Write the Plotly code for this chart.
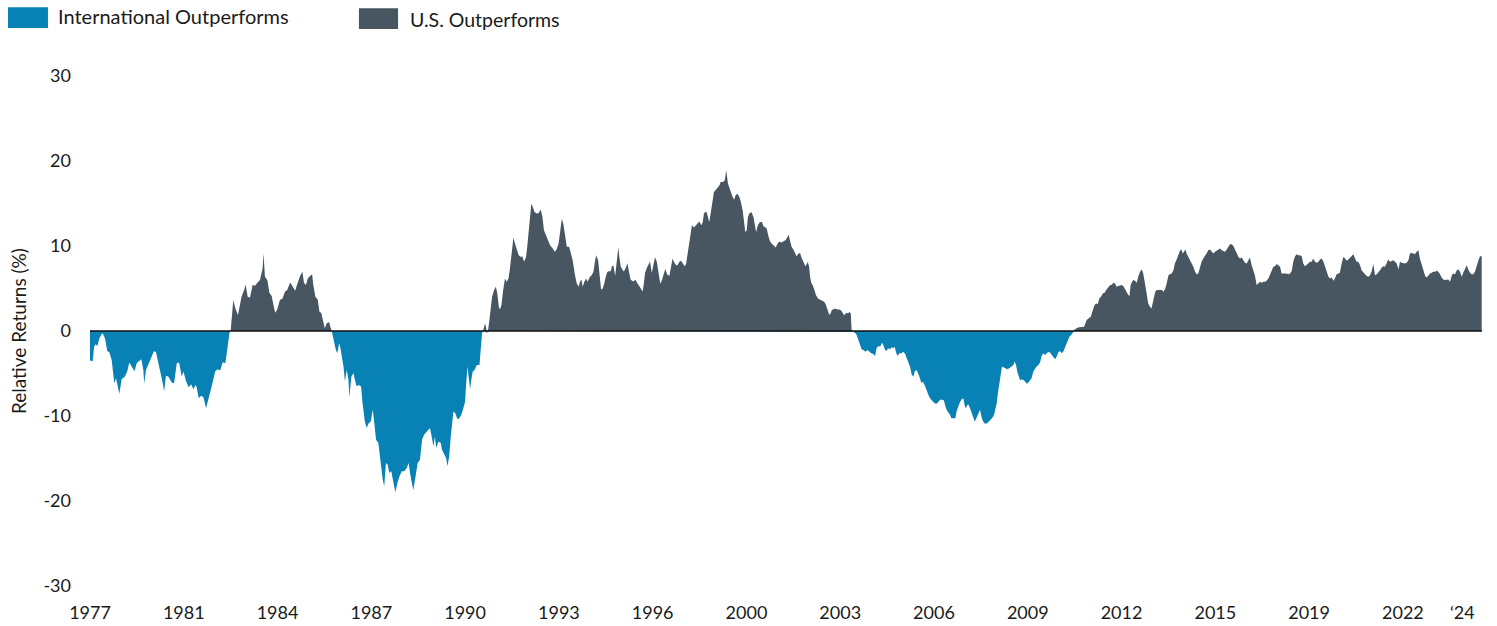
import plotly.graph_objects as go

# ---------------- data ----------------
years = [
    # 1977-1982
    1977.00,1977.09,1977.14,1977.19,1977.25,1977.32,1977.40,1977.43,1977.51,1977.59,
    1977.66,1977.74,1977.83,1977.89,1978.00,1978.08,1978.19,1978.27,1978.34,1978.46,
    1978.52,1978.59,1978.68,1978.75,1978.82,1978.85,1978.91,1978.99,1979.08,1979.18,
    1979.25,1979.34,1979.46,1979.53,1979.59,1979.67,1979.79,1979.87,1979.96,1980.04,
    1980.13,1980.19,1980.28,1980.37,1980.45,1980.53,1980.60,1980.64,1980.71,1980.79,
    1980.87,1980.96,1981.04,1981.15,1981.27,1981.35,1981.44,1981.53,1981.62,1981.69,
    1981.76,1981.80,1981.89,1981.96,1982.05,1982.10,1982.17,1982.26,1982.31,1982.38,
    1982.46,1982.55,1982.63,1982.71,1982.80,
    # 1982-1988
    1982.89,1982.92,1982.97,1983.05,1983.12,1983.20,1983.26,1983.32,1983.39,1983.48,
    1983.57,1983.65,1983.73,1983.83,1983.92,1984.00,1984.08,1984.17,1984.25,1984.30,
    1984.37,1984.43,1984.51,1984.58,1984.62,1984.69,1984.77,1984.83,1984.89,1984.94,
    1985.01,1985.08,1985.16,1985.20,1985.25,1985.28,1985.33,1985.39,1985.44,1985.50,
    1985.54,1985.60,1985.65,1985.70,1985.76,1985.82,1985.85,1985.92,1985.99,1986.04,
    1986.10,1986.17,1986.25,1986.30,1986.38,1986.44,1986.51,1986.58,1986.65,1986.69,
    1986.76,1986.84,1986.90,1986.99,1987.04,1987.10,1987.16,1987.21,1987.28,1987.35,
    1987.42,1987.49,1987.56,1987.64,1987.72,1987.81,1987.87,1987.94,1988.03,1988.11,
    1988.18,1988.26,1988.33,1988.40,1988.49,
    # 1988-1994
    1988.60,1988.66,1988.72,1988.77,1988.81,1988.89,1988.97,1989.01,1989.08,1989.15,
    1989.20,1989.26,1989.31,1989.35,1989.40,1989.46,1989.54,1989.60,1989.67,1989.74,
    1989.80,1989.83,1989.88,1989.92,1989.97,1990.01,1990.06,1990.12,1990.20,1990.29,
    1990.33,1990.38,1990.42,1990.48,1990.54,1990.58,1990.63,1990.67,1990.72,1990.79,
    1990.85,1990.90,1990.95,1990.99,1991.04,1991.10,1991.16,1991.22,1991.28,1991.33,
    1991.39,1991.45,1991.50,1991.56,1991.63,1991.70,1991.75,1991.81,1991.88,1991.92,
    1991.97,1992.01,1992.06,1992.11,1992.17,1992.24,1992.31,1992.38,1992.44,1992.49,
    1992.56,1992.62,1992.70,1992.79,1992.86,1992.92,1992.99,1993.05,1993.10,1993.15,
    1993.22,1993.27,1993.35,1993.40,1993.47,1993.55,1993.61,1993.68,1993.72,1993.77,
    1993.81,1993.87,1993.93,1993.98,1994.06,
    # 1994-2000
    1994.12,1994.18,1994.22,1994.27,1994.34,1994.38,1994.44,1994.49,1994.54,1994.60,
    1994.65,1994.70,1994.77,1994.81,1994.86,1994.92,1994.97,1995.03,1995.06,1995.11,
    1995.17,1995.22,1995.28,1995.34,1995.39,1995.45,1995.54,1995.61,1995.68,1995.75,
    1995.80,1995.86,1995.90,1995.94,1996.00,1996.05,1996.11,1996.17,1996.22,1996.28,
    1996.34,1996.39,1996.46,1996.52,1996.56,1996.63,1996.70,1996.77,1996.83,1996.88,
    1996.94,1997.00,1997.05,1997.11,1997.17,1997.22,1997.29,1997.34,1997.38,1997.44,
    1997.50,1997.54,1997.61,1997.68,1997.72,1997.79,1997.86,1997.91,1997.95,1998.00,
    1998.04,1998.10,1998.13,1998.18,1998.25,1998.29,1998.36,1998.43,1998.48,1998.52,
    1998.59,1998.66,1998.71,1998.77,1998.82,1998.88,1998.93,1998.98,1999.03,1999.09,
    1999.16,1999.21,1999.27,1999.32,1999.36,1999.41,1999.45,1999.50,1999.57,1999.64,
    1999.68,1999.73,1999.79,1999.86,1999.93,1999.98,2000.05,2000.09,2000.15,2000.20,
    # 2000-2006
    2000.26,2000.34,2000.40,2000.45,2000.52,2000.59,2000.66,2000.73,2000.80,2000.84,
    2000.89,2000.94,2001.00,2001.07,2001.11,2001.18,2001.23,2001.27,2001.34,2001.41,
    2001.47,2001.49,2001.54,2001.57,2001.62,2001.66,2001.72,2001.77,2001.84,2001.91,
    2001.98,2002.05,2002.10,2002.16,2002.23,2002.27,2002.32,2002.37,2002.43,2002.50,
    2002.57,2002.64,2002.71,2002.76,2002.80,2002.87,2002.91,2002.96,2002.99,2003.03,
    2003.12,2003.16,2003.22,2003.28,2003.33,2003.39,2003.46,2003.53,2003.59,2003.66,
    2003.73,2003.79,2003.84,2003.90,2003.96,2004.03,2004.07,2004.13,2004.19,2004.23,
    2004.30,2004.35,2004.41,2004.46,2004.50,2004.55,2004.62,2004.69,2004.75,2004.82,
    2004.87,2004.91,2004.98,2005.04,2005.10,2005.14,2005.19,2005.23,2005.28,2005.32,
    2005.37,2005.41,2005.48,2005.55,2005.62,2005.69,2005.76,2005.82,2005.89,2005.95,
    2006.01,
    # 2006-2011
    2006.10,2006.14,2006.19,2006.23,2006.29,2006.35,2006.39,2006.46,2006.53,2006.57,
    2006.62,2006.67,2006.73,2006.80,2006.85,2006.89,2006.94,2006.98,2007.03,2007.09,
    2007.14,2007.19,2007.23,2007.28,2007.32,2007.37,2007.42,2007.46,2007.52,2007.58,
    2007.64,2007.71,2007.78,2007.85,2007.89,2007.94,2007.98,2008.03,2008.08,2008.12,
    2008.17,2008.24,2008.30,2008.37,2008.44,2008.51,2008.55,2008.60,2008.64,2008.69,
    2008.74,2008.78,2008.85,2008.91,2008.96,2009.02,2009.08,2009.13,2009.19,2009.25,
    2009.30,2009.36,2009.42,2009.47,2009.53,2009.59,2009.65,2009.70,2009.76,2009.82,
    2009.87,2009.93,2009.99,2010.04,2010.10,2010.16,2010.21,2010.26,2010.31,2010.36,
    2010.42,2010.48,2010.53,2010.58,2010.64,2010.69,2010.76,2010.84,2010.92,2010.97,
    2011.01,2011.08,2011.15,2011.22,2011.28,2011.33,2011.39,2011.44,2011.50,2011.56,
    2011.62,2011.69,2011.75,2011.81,
    # 2011-2017
    2011.86,2011.92,2011.98,2012.03,2012.09,2012.15,2012.20,2012.26,2012.32,2012.38,
    2012.43,2012.47,2012.51,2012.56,2012.60,2012.66,2012.72,2012.77,2012.83,2012.89,
    2012.94,2013.00,2013.06,2013.11,2013.17,2013.22,2013.26,2013.31,2013.35,2013.40,
    2013.47,2013.54,2013.58,2013.63,2013.68,2013.74,2013.80,2013.85,2013.91,2013.97,
    2014.02,2014.08,2014.14,2014.20,2014.24,2014.29,2014.33,2014.38,2014.42,2014.48,
    2014.54,2014.59,2014.65,2014.71,2014.76,2014.82,2014.88,2014.93,2014.99,2015.05,
    2015.11,2015.16,2015.22,2015.28,2015.33,2015.39,2015.45,2015.50,2015.56,2015.62,
    2015.67,2015.73,2015.79,2015.84,2015.90,2015.96,2016.02,2016.07,2016.13,2016.19,
    2016.24,2016.30,2016.36,2016.41,2016.47,2016.53,2016.58,2016.64,2016.70,2016.75,
    2016.81,2016.87,2016.93,2016.98,2017.04,2017.10,2017.15,2017.21,2017.27,2017.32,
    2017.38,2017.44,2017.49,2017.55,2017.61,
    # 2017-2024
    2017.66,2017.72,2017.78,2017.83,2017.89,2017.95,2018.01,2018.06,2018.12,2018.18,
    2018.23,2018.29,2018.35,2018.40,2018.46,2018.52,2018.57,2018.63,2018.69,2018.74,
    2018.80,2018.86,2018.92,2018.97,2019.03,2019.09,2019.14,2019.20,2019.26,2019.31,
    2019.37,2019.43,2019.48,2019.54,2019.60,2019.65,2019.71,2019.77,2019.83,2019.88,
    2019.94,2020.00,2020.05,2020.11,2020.17,2020.22,2020.28,2020.34,2020.39,2020.45,
    2020.51,2020.57,2020.62,2020.68,2020.74,2020.79,2020.85,2020.91,2020.96,2021.02,
    2021.08,2021.13,2021.19,2021.25,2021.30,2021.36,2021.42,2021.48,2021.53,2021.59,
    2021.65,2021.70,2021.76,2021.82,2021.87,2021.93,2021.99,2022.04,2022.10,2022.16,
    2022.21,2022.27,2022.33,2022.38,2022.44,2022.50,2022.56,2022.61,2022.67,2022.73,
    2022.78,2022.84,2022.90,2022.95,2023.01,2023.07,2023.12,2023.18,2023.24,2023.29,
    2023.35,2023.41,2023.47,2023.52,2023.58,2023.64,2023.69,2023.75,2023.81,2023.86,
    2023.92,2023.98,2024.03,2024.09,2024.15,2024.20,2024.26,2024.32,2024.38,2024.43,
    2024.49,
]

rel_returns = [
    # 1977-1982
    -3.48,-3.56,-1.84,-1.56,-1.76,-0.86,-0.35,-0.27,-0.86,-2.35,
    -2.50,-3.40,-6.14,-5.56,-7.39,-5.67,-5.36,-4.77,-3.72,-4.38,
    -4.73,-3.80,-3.52,-3.33,-4.58,-6.22,-4.58,-3.99,-3.21,-2.39,
    -2.46,-3.80,-5.75,-7.08,-5.28,-5.36,-6.06,-6.14,-3.80,-3.72,
    -5.36,-4.77,-5.95,-6.61,-6.26,-6.85,-6.34,-6.61,-7.90,-7.63,
    -7.79,-9.08,-8.10,-6.53,-4.77,-4.50,-4.66,-3.68,-3.80,-1.64,
    -0.20,0.00,3.64,2.66,1.88,2.86,4.03,4.81,5.48,4.03,
    3.95,5.40,5.32,5.67,5.99,
    # 1982-1988
    7.36,9.12,6.38,5.99,4.50,4.11,3.05,2.15,2.54,3.64,
    3.83,4.62,4.81,5.71,5.20,4.73,5.59,6.46,6.96,5.67,
    5.40,6.18,6.46,6.69,5.40,4.03,3.72,2.27,2.15,1.29,
    0.31,0.90,1.06,0.51,0.00,-0.51,-1.53,-2.23,-2.62,-1.45,
    -1.92,-3.01,-4.19,-5.95,-4.58,-5.75,-7.79,-5.36,-4.97,-5.75,
    -6.53,-6.34,-6.53,-8.49,-10.64,-11.42,-10.84,-10.64,-9.27,-10.45,
    -12.79,-13.18,-15.14,-17.49,-18.27,-15.53,-15.73,-16.71,-16.51,-17.88,
    -18.98,-17.88,-17.10,-16.51,-16.51,-16.12,-15.53,-17.10,-18.74,-17.10,
    -15.53,-15.14,-12.79,-12.21,-11.82,
    # 1988-1994
    -11.42,-12.40,-13.58,-12.40,-13.77,-12.99,-13.18,-13.97,-14.44,-14.95,
    -15.92,-14.67,-12.40,-10.84,-9.47,-9.66,-10.37,-10.25,-9.86,-9.08,
    -8.29,-6.53,-4.19,-5.36,-6.85,-5.75,-4.77,-4.58,-3.99,-3.99,
    -2.23,-0.20,0.12,0.90,-0.20,-0.08,1.29,2.86,4.03,4.81,
    5.20,4.42,2.86,2.54,3.05,4.81,6.18,5.79,6.18,7.36,
    9.51,10.99,10.29,9.51,8.92,8.72,8.80,8.14,8.72,9.90,
    11.85,13.62,14.98,14.59,14.01,13.81,13.89,14.28,13.42,11.85,
    11.27,10.76,10.09,9.70,9.31,9.59,10.29,11.85,13.22,12.64,
    11.07,9.90,9.90,9.31,8.33,6.57,5.59,5.20,5.79,6.06,
    5.20,5.79,6.18,5.79,6.38,
    # 1994-2000
    6.57,6.96,7.94,8.92,8.33,6.77,4.89,4.97,5.48,6.38,
    6.93,7.04,7.04,7.63,7.71,6.46,8.02,9.86,8.76,7.59,
    7.20,7.00,7.40,7.98,7.00,6.02,5.83,6.02,5.63,5.24,
    4.93,4.66,5.63,6.81,7.40,7.79,8.18,6.81,7.79,8.69,
    8.18,7.00,5.56,6.02,6.61,7.28,6.61,6.49,7.59,8.53,
    8.02,7.75,7.75,8.14,8.26,8.02,7.63,7.87,8.72,9.90,
    11.07,12.44,12.17,12.44,12.64,12.87,12.44,12.83,13.81,14.01,
    14.01,13.22,12.83,13.81,15.18,16.35,16.63,16.86,17.14,17.53,
    17.53,17.72,18.90,17.33,16.75,16.35,15.77,15.45,15.96,16.16,
    15.77,15.18,14.20,12.83,11.66,11.85,13.42,13.81,14.01,13.42,
    12.64,11.66,12.44,12.83,12.83,12.32,12.17,12.05,11.15,10.60,
    # 2000-2006
    10.29,10.02,9.82,10.21,10.52,10.41,10.60,10.68,11.07,11.31,
    10.60,9.90,9.59,9.12,8.80,9.12,9.19,8.72,8.14,7.63,
    7.94,8.14,7.55,6.38,5.59,5.40,4.81,4.23,3.83,3.72,
    3.64,3.44,3.17,2.46,1.88,2.07,2.54,2.54,2.66,2.54,
    2.54,2.39,1.96,1.88,2.15,2.07,2.27,2.07,0.12,-0.08,
    -0.27,-0.47,-1.06,-1.64,-2.15,-2.23,-2.43,-2.23,-2.43,-2.62,
    -2.70,-2.93,-2.04,-1.76,-1.84,-1.37,-1.64,-2.23,-2.31,-2.04,
    -2.15,-1.92,-2.04,-1.84,-2.43,-2.93,-2.62,-2.62,-2.43,-2.70,
    -3.21,-3.60,-4.19,-5.16,-5.36,-4.77,-4.58,-4.77,-5.16,-5.56,
    -6.14,-5.95,-6.34,-7.12,-7.63,-8.02,-8.29,-8.49,-8.57,-8.29,
    -8.10,
    # 2006-2011
    -8.10,-8.17,-8.88,-9.27,-9.59,-9.86,-10.25,-10.25,-10.25,-9.47,
    -8.88,-8.49,-8.10,-7.90,-8.80,-9.08,-8.69,-8.69,-9.08,-9.66,
    -10.25,-10.64,-10.37,-9.98,-9.59,-9.27,-10.06,-10.53,-10.84,-10.92,
    -10.76,-10.53,-10.25,-9.86,-9.27,-8.49,-7.32,-6.14,-4.58,-4.19,
    -4.27,-4.38,-4.50,-4.38,-4.19,-3.99,-3.60,-3.99,-4.77,-5.36,
    -5.83,-5.67,-5.75,-5.95,-6.22,-6.06,-5.75,-5.56,-4.77,-4.38,
    -4.19,-3.99,-3.72,-2.93,-2.62,-2.82,-2.62,-2.43,-2.54,-2.82,
    -3.01,-3.33,-3.01,-2.54,-2.35,-2.62,-2.43,-2.04,-1.64,-1.06,
    -0.67,-0.47,-0.20,0.12,0.31,0.39,0.43,0.43,0.51,0.90,
    1.29,1.49,1.68,2.45,3.05,3.25,3.17,3.83,4.03,4.42,
    4.50,4.89,5.20,5.40,
    # 2011-2017
    5.40,5.67,5.59,5.20,5.28,5.40,5.40,5.28,4.89,4.50,
    4.23,4.11,5.40,5.79,5.99,5.91,5.67,6.38,6.96,7.24,
    6.77,5.59,4.42,3.25,2.86,2.66,3.25,4.03,4.62,4.81,
    4.81,4.89,4.81,4.62,4.89,5.59,6.57,6.69,6.77,7.16,
    7.94,8.41,9.04,9.51,9.59,9.12,9.31,9.59,9.12,8.72,
    8.33,8.14,7.55,6.96,6.69,6.77,7.55,8.14,8.53,8.80,
    9.19,9.51,9.59,9.31,9.12,9.31,9.43,9.51,9.71,9.51,
    9.43,9.31,9.59,9.90,10.21,10.21,9.98,9.59,9.04,8.72,
    8.53,8.65,8.33,8.02,7.94,8.41,8.65,7.75,6.96,6.57,
    5.40,5.59,5.79,5.67,5.79,5.79,5.91,6.18,6.69,7.24,
    7.55,7.63,7.87,7.75,7.55,
    # 2017-2024
    6.77,6.77,6.85,6.77,6.69,6.77,7.08,8.14,8.80,9.04,
    8.92,8.92,8.80,7.94,7.63,7.75,7.94,8.14,8.14,8.53,
    8.14,8.02,8.14,8.41,8.53,8.14,7.55,7.08,6.38,6.18,
    6.30,5.91,6.18,6.69,6.77,6.85,7.94,8.72,8.53,8.26,
    8.41,8.65,8.92,9.04,8.53,8.14,8.14,7.75,7.16,6.85,
    6.69,6.46,6.38,6.57,7.08,7.87,6.57,6.69,6.85,7.16,
    7.48,7.63,7.55,7.94,8.41,8.14,8.26,8.33,8.14,7.94,
    7.24,8.14,8.02,7.94,7.94,8.02,8.33,9.12,9.19,9.12,
    9.04,9.31,9.51,8.53,7.75,6.96,6.46,6.30,6.57,6.77,
    6.85,6.96,6.96,7.08,6.96,6.69,6.30,6.06,5.99,5.99,
    6.06,5.79,6.57,6.77,6.69,7.16,7.24,6.96,6.38,6.85,
    7.36,7.75,7.24,6.85,6.69,6.69,6.96,7.75,8.33,8.80,
    8.80,
]

assert len(years) == len(rel_returns), (len(years), len(rel_returns))

tick_positions = [1977.0, 1980.2, 1983.4, 1986.6, 1989.8, 1993.0, 1996.2, 1999.4,
                  2002.6, 2005.8, 2009.0, 2012.2, 2015.4, 2018.6, 2021.8, 2023.83]
tick_labels = ["1977", "1981", "1984", "1987", "1990", "1993", "1996", "2000",
               "2003", "2006", "2009", "2012", "2015", "2019", "2022", "\u201824"]
y_ticks = [-30, -20, -10, 0, 10, 20, 30]
y_tick_labels = ["-30", "-20", "-10", "0", "10", "20", "30"]

series_names = ["International Outperforms", "U.S. Outperforms"]
BLUE = "#0881B4"
SLATE = "#475661"
FONT = "Lato"
TXT = "#1a1a1a"

intl_part = [min(v, 0.0) for v in rel_returns]
us_part = [max(v, 0.0) for v in rel_returns]

fig = go.Figure()
fig.add_trace(go.Scatter(x=years, y=intl_part, name=series_names[0], mode="lines",
                         fill="tozeroy", fillcolor=BLUE, line=dict(width=0, color=BLUE),
                         showlegend=False, hoverinfo="x+y"))
fig.add_trace(go.Scatter(x=years, y=us_part, name=series_names[1], mode="lines",
                         fill="tozeroy", fillcolor=SLATE, line=dict(width=0, color=SLATE),
                         showlegend=False, hoverinfo="x+y"))

# zero line on top
fig.add_shape(type="line", xref="paper", x0=0, x1=1, yref="y", y0=0, y1=0,
              line=dict(color="#111111", width=1.5), layer="above")

# custom legend (swatches + labels), positioned in paper coordinates
fig.add_shape(type="rect", xref="paper", yref="paper", x0=-0.0589, x1=-0.0302,
              y0=1.094, y1=1.135, fillcolor=BLUE, line=dict(width=0))
fig.add_annotation(xref="paper", yref="paper", x=-0.0244, y=1.117, text=series_names[0],
                   showarrow=False, xanchor="left", yanchor="middle",
                   font=dict(family=FONT, size=20, color=TXT))
fig.add_shape(type="rect", xref="paper", yref="paper", x0=0.1932, x1=0.2213,
              y0=1.092, y1=1.133, fillcolor=SLATE, line=dict(width=0))
fig.add_annotation(xref="paper", yref="paper", x=0.2285, y=1.111, text=series_names[1],
                   showarrow=False, xanchor="left", yanchor="middle",
                   font=dict(family=FONT, size=19.5, color=TXT))

# y-axis title
fig.add_annotation(xref="paper", yref="paper", x=-0.0517, y=0.5, text="Relative Returns (%)",
                   textangle=-90, showarrow=False, xanchor="center", yanchor="middle",
                   font=dict(family=FONT, size=19, color=TXT))

fig.update_layout(
    width=1497, height=626,
    margin=dict(l=90, r=15, t=76, b=40, autoexpand=False),
    paper_bgcolor="white", plot_bgcolor="white",
    font=dict(family=FONT, size=18, color=TXT),
    showlegend=False,
)
fig.update_xaxes(range=[1977.0, 2024.5], tickvals=tick_positions, ticktext=tick_labels,
                 showgrid=False, zeroline=False, showline=False, ticks="", automargin=False,
                 ticklabelstandoff=14, tickfont=dict(family=FONT, size=18, color=TXT))
fig.update_yaxes(range=[-30, 30], tickvals=y_ticks, ticktext=y_tick_labels,
                 showgrid=False, zeroline=False, showline=False, ticks="", automargin=False,
                 ticklabelstandoff=18, tickfont=dict(family=FONT, size=18, color=TXT))

fig.write_html("out.html", config={"displayModeBar": False})
with open("out.html", "r", encoding="utf-8") as f:
    html = f.read()
html = html.replace("<head>", "<head><style>html,body{margin:0;padding:0;overflow:hidden;}</style>", 1)
with open("out.html", "w", encoding="utf-8") as f:
    f.write(html)
